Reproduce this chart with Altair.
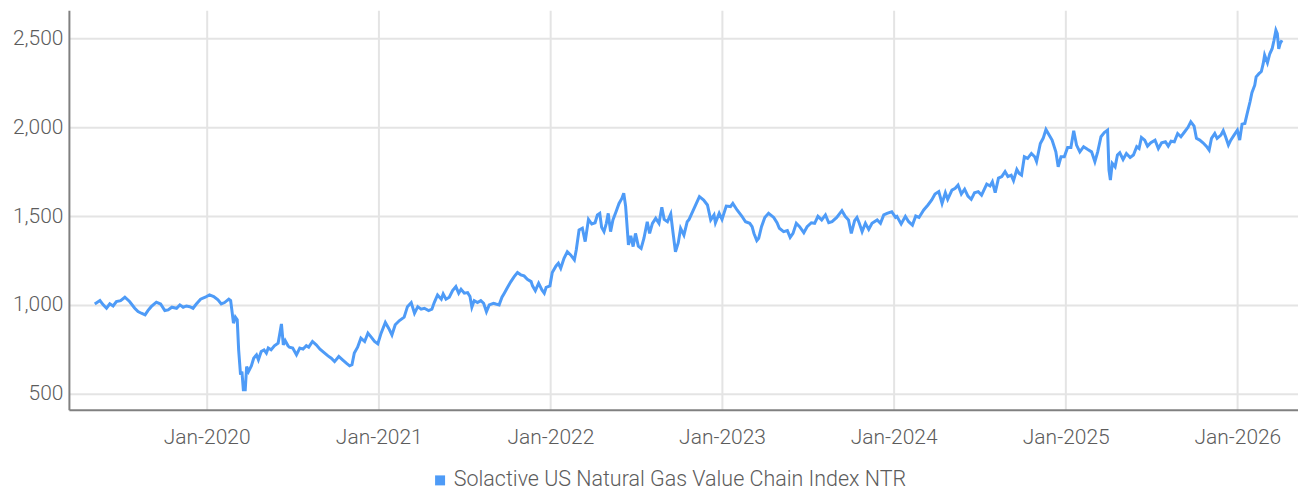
import altair as alt
import pandas as pd
import numpy as np

SERIES = "Solactive US Natural Gas Value Chain Index NTR"
BLUE = "#4E9BF7"

YEARS = [
    2019.349, 2019.378, 2019.397, 2019.417, 2019.436, 2019.455, 2019.475, 2019.500, 2019.523, 2019.552,
    2019.581, 2019.601, 2019.620, 2019.640, 2019.659, 2019.678, 2019.708, 2019.733, 2019.756, 2019.775,
    2019.798, 2019.824, 2019.843, 2019.862, 2019.882, 2019.901, 2019.920, 2019.940, 2019.965, 2019.992,
    2020.017, 2020.042, 2020.066, 2020.085, 2020.105, 2020.128, 2020.140, 2020.149, 2020.157, 2020.167,
    2020.178, 2020.186, 2020.198, 2020.205, 2020.213, 2020.225, 2020.233, 2020.244, 2020.260, 2020.275,
    2020.289, 2020.302, 2020.318, 2020.333, 2020.347, 2020.360, 2020.376, 2020.395, 2020.415, 2020.424,
    2020.434, 2020.446, 2020.458, 2020.473, 2020.483, 2020.502, 2020.522, 2020.541, 2020.560, 2020.580,
    2020.595, 2020.615, 2020.638, 2020.661, 2020.686, 2020.705, 2020.725, 2020.744, 2020.769, 2020.792,
    2020.812, 2020.831, 2020.847, 2020.860, 2020.880, 2020.899, 2020.919, 2020.938, 2020.958, 2020.977,
    2020.996, 2021.016, 2021.041, 2021.060, 2021.080, 2021.099, 2021.122, 2021.151, 2021.170, 2021.190,
    2021.209, 2021.228, 2021.248, 2021.267, 2021.292, 2021.312, 2021.326, 2021.345, 2021.365, 2021.378,
    2021.394, 2021.413, 2021.432, 2021.452, 2021.467, 2021.481, 2021.500, 2021.519, 2021.533, 2021.545,
    2021.558, 2021.577, 2021.597, 2021.612, 2021.630, 2021.645, 2021.669, 2021.684, 2021.703, 2021.719,
    2021.733, 2021.752, 2021.772, 2021.791, 2021.810, 2021.830, 2021.849, 2021.868, 2021.888, 2021.897,
    2021.913, 2021.932, 2021.952, 2021.965, 2021.978, 2021.998, 2022.013, 2022.033, 2022.048, 2022.062,
    2022.081, 2022.101, 2022.120, 2022.140, 2022.153, 2022.169, 2022.188, 2022.203, 2022.223, 2022.242,
    2022.262, 2022.275, 2022.289, 2022.301, 2022.314, 2022.327, 2022.339, 2022.353, 2022.366, 2022.382,
    2022.401, 2022.417, 2022.428, 2022.440, 2022.455, 2022.469, 2022.483, 2022.498, 2022.513, 2022.529,
    2022.547, 2022.566, 2022.580, 2022.595, 2022.615, 2022.634, 2022.649, 2022.663, 2022.682, 2022.702,
    2022.715, 2022.731, 2022.746, 2022.760, 2022.779, 2022.798, 2022.808, 2022.847, 2022.870, 2022.895,
    2022.915, 2022.934, 2022.953, 2022.963, 2022.983, 2023.002, 2023.025, 2023.051, 2023.064, 2023.089,
    2023.115, 2023.138, 2023.161, 2023.176, 2023.186, 2023.202, 2023.215, 2023.231, 2023.250, 2023.273,
    2023.302, 2023.322, 2023.335, 2023.360, 2023.380, 2023.399, 2023.413, 2023.432, 2023.452, 2023.477,
    2023.496, 2023.522, 2023.541, 2023.560, 2023.580, 2023.603, 2023.622, 2023.641, 2023.670, 2023.699,
    2023.719, 2023.738, 2023.754, 2023.773, 2023.787, 2023.801, 2023.816, 2023.836, 2023.855, 2023.874,
    2023.903, 2023.923, 2023.942, 2023.961, 2023.990, 2024.010, 2024.019, 2024.045, 2024.068, 2024.087,
    2024.110, 2024.130, 2024.149, 2024.174, 2024.199, 2024.223, 2024.242, 2024.262, 2024.281, 2024.301,
    2024.316, 2024.339, 2024.359, 2024.374, 2024.394, 2024.413, 2024.432, 2024.452, 2024.471, 2024.494,
    2024.513, 2024.542, 2024.562, 2024.576, 2024.591, 2024.610, 2024.630, 2024.649, 2024.665, 2024.684,
    2024.698, 2024.717, 2024.731, 2024.746, 2024.762, 2024.781, 2024.801, 2024.820, 2024.833, 2024.853,
    2024.872, 2024.888, 2024.905, 2024.924, 2024.944, 2024.959, 2024.975, 2024.994, 2025.013, 2025.033,
    2025.048, 2025.066, 2025.085, 2025.105, 2025.130, 2025.153, 2025.173, 2025.188, 2025.208, 2025.227,
    2025.246, 2025.254, 2025.263, 2025.273, 2025.289, 2025.304, 2025.318, 2025.337, 2025.356, 2025.376,
    2025.395, 2025.415, 2025.428, 2025.444, 2025.463, 2025.478, 2025.498, 2025.522, 2025.541, 2025.560,
    2025.583, 2025.599, 2025.615, 2025.634, 2025.653, 2025.673, 2025.696, 2025.715, 2025.731, 2025.750,
    2025.763, 2025.783, 2025.802, 2025.822, 2025.836, 2025.851, 2025.870, 2025.885, 2025.905, 2025.919,
    2025.932, 2025.948, 2025.963, 2025.983, 2026.002, 2026.016, 2026.029, 2026.045, 2026.060, 2026.074,
    2026.087, 2026.103, 2026.112, 2026.126, 2026.141, 2026.151, 2026.161, 2026.176, 2026.190, 2026.203,
    2026.215, 2026.227, 2026.234, 2026.242, 2026.250, 2026.262,
]
VALUES = [
    1005, 1024, 1000, 981, 1006, 994, 1019, 1024, 1043, 1019,
    981, 962, 953, 944, 968, 990, 1015, 1005, 968, 972,
    987, 981, 1000, 987, 994, 990, 981, 1005, 1032, 1043,
    1056, 1047, 1028, 1005, 1013, 1032, 1024, 962, 897, 931,
    916, 747, 607, 625, 522, 522, 653, 625, 657, 700,
    719, 691, 738, 747, 729, 757, 747, 770, 785, 831,
    893, 775, 799, 770, 762, 757, 719, 757, 751, 770,
    762, 794, 775, 751, 729, 713, 700, 681, 710, 691,
    672, 657, 663, 729, 762, 813, 794, 841, 819, 794,
    781, 841, 901, 869, 831, 888, 912, 931, 990, 1013,
    953, 990, 976, 981, 968, 976, 1013, 1056, 1032, 1062,
    1032, 1043, 1080, 1103, 1066, 1088, 1066, 1069, 1047, 987,
    1024, 1013, 1024, 1009, 962, 1000, 1009, 1005, 1000, 1043,
    1066, 1099, 1131, 1159, 1182, 1169, 1163, 1144, 1131, 1107,
    1080, 1122, 1084, 1066, 1099, 1107, 1182, 1219, 1234, 1206,
    1262, 1299, 1281, 1253, 1309, 1421, 1431, 1356, 1481, 1455,
    1462, 1506, 1515, 1436, 1412, 1459, 1515, 1412, 1478, 1520,
    1571, 1599, 1628, 1556, 1337, 1388, 1328, 1402, 1331, 1318,
    1375, 1468, 1402, 1459, 1487, 1459, 1549, 1481, 1468, 1511,
    1402, 1299, 1350, 1431, 1393, 1468, 1481, 1562, 1609, 1590,
    1562, 1478, 1506, 1462, 1515, 1481, 1556, 1553, 1571, 1534,
    1500, 1468, 1459, 1440, 1402, 1362, 1375, 1440, 1492, 1515,
    1492, 1462, 1431, 1412, 1418, 1380, 1402, 1459, 1440, 1406,
    1440, 1462, 1459, 1498, 1478, 1506, 1462, 1468, 1492, 1530,
    1498, 1478, 1402, 1474, 1492, 1459, 1412, 1459, 1425, 1459,
    1478, 1459, 1506, 1515, 1524, 1492, 1498, 1455, 1498, 1468,
    1449, 1500, 1492, 1534, 1562, 1590, 1624, 1637, 1571, 1631,
    1594, 1646, 1656, 1674, 1624, 1651, 1612, 1594, 1631, 1637,
    1618, 1680, 1669, 1693, 1631, 1713, 1722, 1750, 1722, 1730,
    1699, 1762, 1739, 1730, 1833, 1824, 1852, 1833, 1806, 1908,
    1937, 1987, 1955, 1927, 1861, 1777, 1833, 1833, 1886, 1886,
    1980, 1899, 1861, 1890, 1874, 1861, 1806, 1861, 1946, 1969,
    1983, 1758, 1702, 1796, 1777, 1843, 1856, 1818, 1852, 1829,
    1843, 1890, 1880, 1942, 1927, 1893, 1912, 1927, 1880, 1912,
    1918, 1893, 1921, 1918, 1964, 1946, 1974, 1999, 2030, 2006,
    1937, 1927, 1912, 1893, 1871, 1937, 1964, 1937, 1955, 1980,
    1946, 1899, 1927, 1955, 1983, 1927, 2017, 2021, 2077, 2143,
    2194, 2236, 2283, 2301, 2313, 2357, 2405, 2362, 2413, 2441,
    2489, 2545, 2526, 2441, 2470, 2489,
]

Y_TICKS = [500, 1000, 1500, 2000, 2500]
Y_DOMAIN = [410, 2657]

yrs = np.array(YEARS)
dates = pd.Timestamp("2020-01-01") + pd.to_timedelta((yrs - 2020.0) * 365.25, unit="D")
df = pd.DataFrame({"date": dates.round("D"), "value": VALUES, "series": SERIES})

FONT = "Roboto"
TXT = "#5c5c5c"

chart = alt.Chart(df).mark_line(strokeWidth=3, interpolate="linear").encode(
    x=alt.X(
        "date:T",
        scale=alt.Scale(domain=[alt.DateTime(year=2019, month=3, date=14),
                                alt.DateTime(year=2026, month=5, date=10)], nice=False),
        axis=alt.Axis(
            title=None, format="%b-%Y", tickCount={"interval": "year", "step": 1},
            grid=True, gridColor="#e4e4e4", gridWidth=2,
            domainColor="#808080", domainWidth=2, ticks=False,
            labelFont=FONT, labelFontSize=21, labelFontWeight=300, labelColor=TXT,
            labelPadding=17, labelBaseline="top",
        ),
    ),
    y=alt.Y(
        "value:Q",
        scale=alt.Scale(domain=Y_DOMAIN, nice=False, zero=False),
        axis=alt.Axis(
            title=None, values=Y_TICKS, format=",.0f",
            grid=True, gridColor="#e4e4e4", gridWidth=2,
            domainColor="#808080", domainWidth=2, ticks=False,
            labelFont=FONT, labelFontSize=21, labelFontWeight=300, labelColor=TXT,
            labelPadding=6,
        ),
    ),
    color=alt.Color(
        "series:N",
        scale=alt.Scale(range=[BLUE]),
        legend=alt.Legend(
            title=None, orient="none", legendX=361, legendY=460,
            symbolType="square", symbolSize=100, symbolFillColor=BLUE,
            symbolStrokeColor=BLUE, symbolStrokeWidth=0,
            labelFont=FONT, labelFontSize=21.5, labelFontWeight=300, labelColor=TXT,
            labelOffset=3, labelLimit=800,
        ),
    ),
).properties(
    width=1231, height=400,
    autosize=alt.AutoSizeParams(type="none"),
    padding={"left": 61, "top": 2, "right": 0, "bottom": 80},
).configure(background="white").configure_view(stroke="transparent", strokeWidth=0)

chart.save("out.html", embed_options={"renderer": "svg", "actions": False})
